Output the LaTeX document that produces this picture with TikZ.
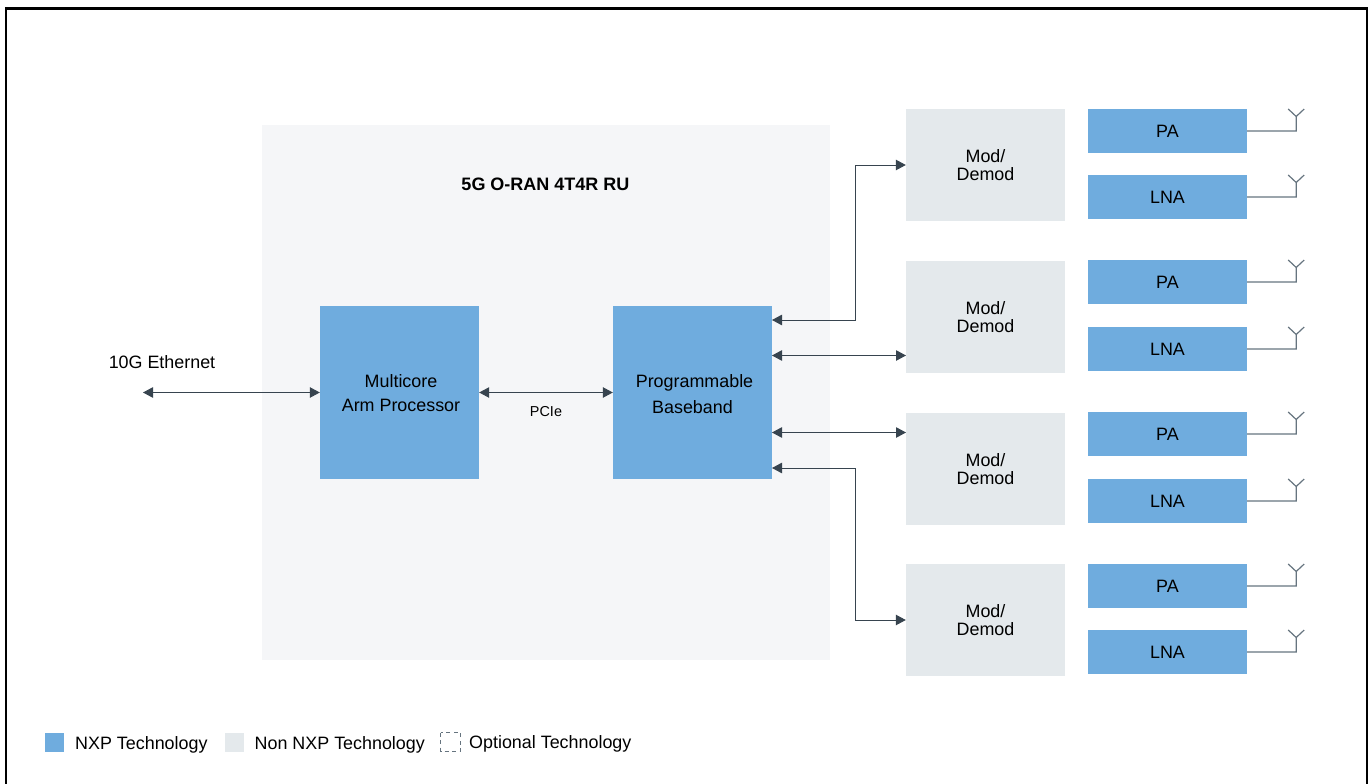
\documentclass[tikz,border=0pt]{standalone}
\usepackage{xcolor}
\usepackage{fontspec}
\setmainfont{Liberation Sans}
\usetikzlibrary{arrows.meta}
\definecolor{nxpblue}{HTML}{6FACDE}
\definecolor{nonnxp}{HTML}{E4E9EC}
\definecolor{rupanel}{HTML}{F5F6F8}
\definecolor{wiredark}{HTML}{37444F}
\definecolor{wiregray}{HTML}{66747F}
\tikzset{
  txt/.style={font=\fontsize{17.9}{18}\selectfont,align=center,text=black,inner sep=0pt},
  blockbox/.style={fill=nxpblue,minimum width=159pt,minimum height=173pt,txt},
  modbox/.style={fill=nonnxp,minimum width=159pt,minimum height=112pt,txt},
  ampbox/.style={fill=nxpblue,minimum width=159pt,minimum height=44pt,txt},
  link/.style={wiredark,line width=1pt,{Triangle[length=10pt,width=10.5pt]}-{Triangle[length=10pt,width=10.5pt]}},
  feed/.style={wiregray,line width=1.2pt},
}
\begin{document}
\begin{tikzpicture}[x=1pt,y=-1pt]
    \useasboundingbox (0,0) rectangle (1369,784);
    \draw [black,line width=2.6pt] (6,784) -- (6,8.3) -- (1367,8.3) -- (1367,784);

    \fill [rupanel] (262,125) rectangle (830,659.5);
    \node [txt,font=\fontsize{18}{20}\selectfont\bfseries] (title) at (545.5,184) {5G O-RAN 4T4R RU};

    \node [blockbox,label={[txt,xshift=1.5pt,yshift=-1pt]center:{Multicore\\[6pt]Arm Processor}}] (arm) at (399.5,392.5) {};
    \node [blockbox,label={[txt,yshift=-2pt]center:{\hspace*{4pt}Programmable\\[8pt]Baseband}}] (baseband) at (692.5,392.5) {};
    \coordinate (eth) at (143,392.5);
    \node [txt,anchor=base] (ethlabel) at (162,368) {10G Ethernet};
    \node [txt,font=\fontsize{14.4}{16}\selectfont,anchor=base] (pcie) at (546,416) {PCIe};
    \draw [link] (eth) -- (arm.west);
    \draw [link] (arm.east) -- (baseband.west);

    % four radio chains
    \foreach \i/\ymod/\ypa/\ylna in {1/165/131/197,2/317/282/349,3/469/434/501,4/620/586/652} {
      \node [modbox] (mod\i) at (985.5,\ymod) {Mod/\\Demod};
      \node [ampbox] (pa\i) at (1167.5,\ypa) {PA};
      \node [ampbox] (lna\i) at (1167.5,\ylna) {LNA};
      \foreach \amp in {pa\i,lna\i} {
        \coordinate (foot) at ([xshift=49pt]\amp.east);
        \coordinate (fork) at ([yshift=14.5pt]foot);
        \draw [feed] (\amp.east) -- (foot) -- (fork) -- +(-8,-7.5);
        \draw [feed] (fork) -- +(8,-7.5);
      }
    }

    \coordinate (bb1) at (772,320);
    \coordinate (bb2) at (772,355.5);
    \coordinate (bb3) at (772,432.5);
    \coordinate (bb4) at (772,468);
    \draw [link] (bb1) -| (855,165) -- (mod1.west);
    \draw [link] (bb2) -- (906,355.5);
    \draw [link] (bb3) -- (906,432.5);
    \draw [link] (bb4) -| (855,620) -- (mod4.west);

    % legend
    \fill [nxpblue] (45,733) rectangle (64,752);
    \node [txt,anchor=base west] (lgnxp) at (75,749) {NXP Technology};
    \fill [nonnxp] (225,733) rectangle (244,752);
    \node [txt,anchor=base west] (lgnon) at (254.5,749) {Non NXP Technology};
    \draw [wiregray,line width=1pt,dash pattern=on 4pt off 3.5pt] (440.5,732.5) rectangle (460.5,751);
    \node [txt,anchor=base west] (lgopt) at (469,748) {Optional Technology};
  \end{tikzpicture}
\end{document}
